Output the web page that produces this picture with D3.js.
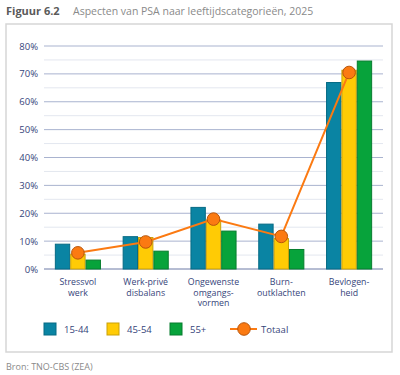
<!DOCTYPE html>
<html>
<head>
<meta charset="utf-8">
<script src="https://cdn.jsdelivr.net/npm/d3@7"></script>
<style>
  body { margin: 0; background: #fff; }
  svg { display: block; font-family: "Open Sans", sans-serif; }
</style>
</head>
<body>
<div id="chart"></div>
<script>
// data (percentages)
const categories = [
  ["Stressvol", "werk"],
  ["Werk-privé", "disbalans"],
  ["Ongewenste", "omgangs-", "vormen"],
  ["Burn-", "outklachten"],
  ["Bevlogen-", "heid"]
];
const seriesNames = ["15-44", "45-54", "55+"];
const age1544 = [8.9, 11.6, 22.1, 16.1, 66.9];
const age4554 = [5.3, 11.3, 17.6, 10.9, 71.3];
const age55 = [3.2, 6.4, 13.6, 7.0, 74.6];
const totaal = [5.8, 9.7, 17.9, 11.7, 70.5];
const yTicks = [0, 10, 20, 30, 40, 50, 60, 70, 80];
const yMinor = [5, 15, 25, 35, 45, 55, 65, 75];

const colors = ["#0a84a3", "#ffcb05", "#07a33b"];
const strokes = ["#066a84", "#c9a10a", "#077d2e"];
const orange = "#fb7a12";

const W = 400, H = 375;
const margin = { top: 46, left: 44, right: 17, bottom: 106 };
const width = W - margin.left - margin.right,
  height = H - margin.top - margin.bottom;

const svg = d3.select("#chart").append("svg")
  .attr("width", W)
  .attr("height", H);

// title
svg.append("text")
  .attr("x", 6).attr("y", 15)
  .style("font-size", "11px").style("font-weight", "bold")
  .style("fill", "#5a5a5a")
  .text("Figuur 6.2");
svg.append("text")
  .attr("x", 73).attr("y", 15)
  .style("font-size", "10.5px")
  .style("fill", "#8a8a8a")
  .text("Aspecten van PSA naar leeftijdscategorieën, 2025");

// frame
svg.append("rect")
  .attr("x", 6).attr("y", 24)
  .attr("width", 386).attr("height", 328)
  .attr("fill", "none")
  .attr("stroke", "#d6d6d6")
  .attr("stroke-width", 1.5);

const g = svg.append("g")
  .attr("transform", translate(margin.left, margin.top));

const x = d3.scaleBand()
  .domain(d3.range(categories.length))
  .range([0, width])
  .paddingInner(0.32)
  .paddingOuter(0.16);

const x1 = d3.scaleBand()
  .domain(seriesNames)
  .range([0, x.bandwidth()]);

const y = d3.scaleLinear()
  .domain([0, 80])
  .range([height, 0]);

// minor grid
g.selectAll(".minor")
  .data(yMinor)
  .enter().append("line")
  .attr("x1", 0).attr("x2", width)
  .attr("y1", d => y(d)).attr("y2", d => y(d))
  .attr("stroke", "#e3e7ef")
  .attr("stroke-width", 1);

// major grid
g.selectAll(".major")
  .data(yTicks)
  .enter().append("line")
  .attr("x1", 0).attr("x2", width)
  .attr("y1", d => y(d)).attr("y2", d => y(d))
  .attr("stroke", d => d === 0 ? "#6d7ba6" : "#a9b3cf")
  .attr("stroke-width", 1);

// y axis labels
const yAxis = g.append("g")
  .call(d3.axisLeft(y).tickValues(yTicks).tickSize(0).tickPadding(6).tickFormat(d => d + "%"));
yAxis.select(".domain").remove();
yAxis.selectAll("text")
  .style("font-family", "Open Sans, sans-serif")
  .style("font-size", "9.5px")
  .style("fill", "#36457a");

// bars
const seriesData = [age1544, age4554, age55];
const groups = g.selectAll(".group")
  .data(categories.map((c, i) => i))
  .enter().append("g")
  .attr("transform", i => translate(x(i), 0));

groups.selectAll("rect")
  .data(i => seriesNames.map((s, k) => ({ s: s, k: k, v: seriesData[k][i] })))
  .enter().append("rect")
  .attr("x", d => x1(d.s) + 0.5)
  .attr("y", d => y(d.v))
  .attr("width", x1.bandwidth() - 1)
  .attr("height", d => height - y(d.v))
  .attr("fill", d => colors[d.k])
  .attr("stroke", d => strokes[d.k])
  .attr("stroke-width", 1);

// totaal line
const line = d3.line()
  .x((d, i) => x(i) + x.bandwidth() / 2)
  .y(d => y(d));

g.append("path")
  .datum(totaal)
  .attr("d", line)
  .attr("fill", "none")
  .attr("stroke", orange)
  .attr("stroke-width", 2);

g.selectAll(".dot")
  .data(totaal)
  .enter().append("circle")
  .attr("cx", (d, i) => x(i) + x.bandwidth() / 2)
  .attr("cy", d => y(d))
  .attr("r", 6.3)
  .attr("fill", orange)
  .attr("stroke", "#b8560c")
  .attr("stroke-width", 1);

// x labels
const xl = g.selectAll(".xlab")
  .data(categories)
  .enter().append("text")
  .attr("text-anchor", "middle")
  .attr("transform", (d, i) => translate(x(i) + x.bandwidth() / 2, height + 16))
  .style("font-size", "8.8px")
  .style("fill", "#36457a");
xl.selectAll("tspan")
  .data(d => d)
  .enter().append("tspan")
  .attr("x", 0)
  .attr("dy", (d, i) => i === 0 ? 0 : 10.7)
  .text(d => d);

// legend
const legend = svg.append("g").attr("transform", translate(0, 329));
const legX = [44, 107, 170];
seriesNames.forEach(function(s, k) {
  legend.append("rect")
    .attr("x", legX[k]).attr("y", -6)
    .attr("width", 12).attr("height", 12)
    .attr("fill", colors[k])
    .attr("stroke", strokes[k]);
  legend.append("text")
    .attr("x", legX[k] + 20).attr("y", 0)
    .attr("dominant-baseline", "central")
    .style("font-size", "9.5px")
    .style("fill", "#36457a")
    .text(s);
});
legend.append("line")
  .attr("x1", 230).attr("x2", 257)
  .attr("y1", 0).attr("y2", 0)
  .attr("stroke", orange).attr("stroke-width", 2);
legend.append("circle")
  .attr("cx", 244).attr("cy", 0).attr("r", 6.3)
  .attr("fill", orange).attr("stroke", "#b8560c");
legend.append("text")
  .attr("x", 261).attr("y", 0)
  .attr("dominant-baseline", "central")
  .style("font-size", "9.5px")
  .style("fill", "#36457a")
  .text("Totaal");

// source
svg.append("text")
  .attr("x", 6).attr("y", 370)
  .style("font-size", "9px")
  .style("fill", "#8a8a8a")
  .text("Bron: TNO-CBS (ZEA)");

function translate(a, b) {
  return "translate(" + a + "," + b + ")";
}
</script>
</body>
</html>
